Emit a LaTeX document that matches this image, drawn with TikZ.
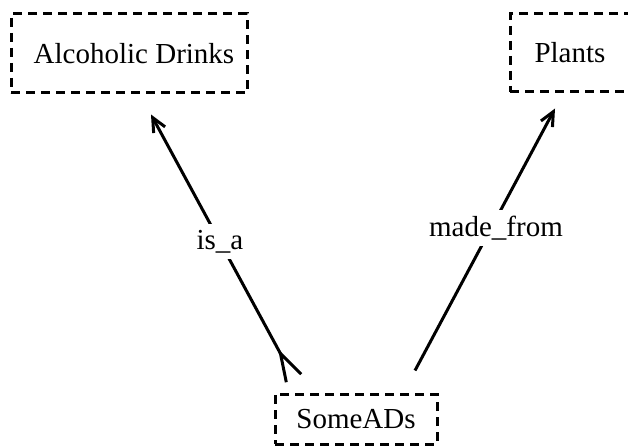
\documentclass[tikz,border=0pt]{standalone}
\usepackage{fontspec}
\setmainfont{Liberation Serif}
\usetikzlibrary{arrows.meta}
\tikzset{
  concept/.style={draw, dash pattern=on 9pt off 6pt, line width=3pt, inner sep=0pt, font=\fontsize{29}{34}\selectfont},
  rel/.style={line width=3pt},
  rellabel/.style={fill=white, inner sep=6pt, font=\fontsize{29}{34}\selectfont},
}
\begin{document}
\begin{tikzpicture}[x=1pt,y=1pt]
  \useasboundingbox (0,0) rectangle (628,445);
  % concepts
  \node[concept, minimum width=236pt, minimum height=79pt] (alc) at (129,391.5) {\hspace*{10pt}Alcoholic Drinks};
  \node[concept, minimum width=120pt, minimum height=78pt] (plants) at (570,392) {Plants};
  \node[concept, minimum width=162pt, minimum height=50pt] (some) at (356,26) {SomeADs};
  % relations
  \draw[rel, {Straight Barb[reversed,length=28pt,width=17pt]}-{Straight Barb[length=14pt,width=13pt]}]
    ([shift={(21,13)}]some.north west) -- node[rellabel, pos=0.52] {is\_a} ([shift={(22,-20)}]alc.south);
  \draw[rel, -{Straight Barb[length=14pt,width=13pt]}]
    ([shift={(59,22)}]some.north) -- node[rellabel, pos=0.55, xshift=4pt, yshift=-2pt] {made\_from} ([shift={(-15,-15)}]plants.south);
\end{tikzpicture}
\end{document}
